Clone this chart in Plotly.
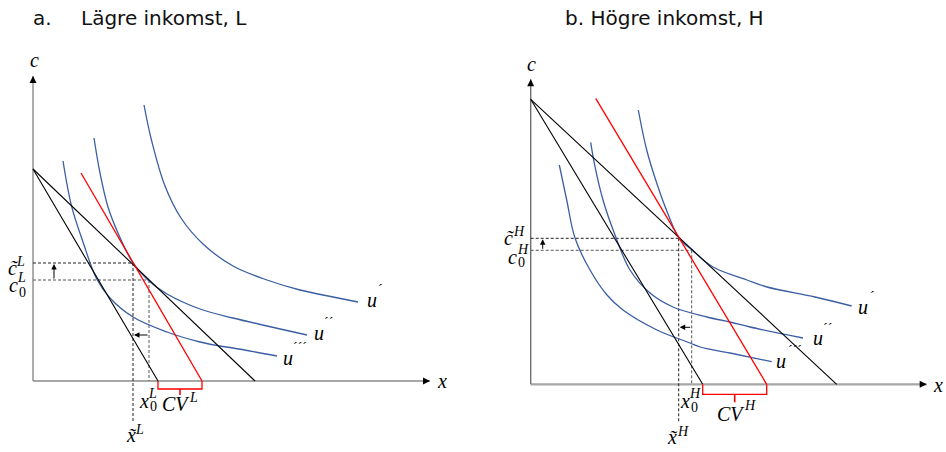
import plotly.graph_objects as go

# ---------------- Panel a: Lägre inkomst, L ----------------
a_axis_x_end, a_axis_c_end = 397, 305
a_budget_c = 212                      # common c-intercept of both black budget lines
a_budget_x_new, a_budget_x_old = 125, 222
a_comp_x = [48, 169]                  # red (compensated) budget line
a_comp_c = [208, 0]
a_c_tilde, a_c_0 = 118, 101
a_x_tilde, a_x_0 = 100, 116
a_u1_x = [111, 118.7, 132, 148, 170, 200, 234, 267, 300, 325]
a_u1_c = [276, 240, 195, 163, 137, 115, 101, 91, 84, 79]
a_u2_x = [61, 67, 75, 85, 100, 116, 134, 167, 200, 234, 274]
a_u2_c = [243, 208, 174, 148, 118, 100, 87, 72, 63, 55, 46]
a_u3_x = [30, 38.7, 50, 63.7, 77, 100, 134, 167, 187, 200, 244]
a_u3_c = [220, 174.3, 139, 102, 83, 64, 49, 39, 35, 33, 25]

# ---------------- Panel b: Högre inkomst, H ----------------
b_axis_x_end, b_axis_c_end = 396, 305
b_budget_c = 285
b_budget_x_new, b_budget_x_old = 172, 306
b_comp_x = [65, 236]
b_comp_c = [286, 0]
b_c_tilde, b_c_0 = 146, 134
b_x_tilde, b_x_0 = 148, 161
b_u1_x = [107.6, 116, 126, 137.3, 148.3, 161.3, 182.3, 216.3, 236.3, 284.3, 321]
b_u1_c = [274.3, 234.3, 201.3, 170.3, 146.3, 134.3, 117.3, 104.3, 97.3, 87.3, 78.3]
b_u2_x = [60, 64.3, 72.3, 84.3, 99.3, 119.3, 142.3, 176.3, 199.3, 219.3, 272.3]
b_u2_c = [242, 217.6, 184.3, 149.3, 114.3, 91.3, 77.3, 67.3, 62.3, 57.3, 46.3]
b_u3_x = [28.6, 36, 44.3, 59.3, 76.3, 92.3, 126.3, 159.3, 169.3, 199.3, 241]
b_u3_c = [219.3, 184.3, 146.3, 114.3, 89.3, 74.3, 54.3, 41.3, 37.3, 31.3, 22.6]

titles = ["a.", "Lägre inkomst, L", "b. Högre inkomst, H"]

BLUE = "#3a5ea3"
RED = "#ff0000"
MATH = "Liberation Serif"

fig = go.Figure()
ann = []


def panel(xr, yr, axis_x_end, axis_c_end, budget_c, bx_new, bx_old, comp_x, comp_c,
          c_t, c_0, x_t, x_0, curves, lab, xaxis_col, yaxis_col, xaxis_w,
          br_depth, br_tick, xt_bottom, arrow_c, arrow_x):
    def line(xs, cs, color, width=1.1, dash=None, shape="linear"):
        fig.add_trace(go.Scatter(x=xs, y=cs, mode="lines", xaxis=xr, yaxis=yr,
                                 line=dict(color=color, width=width, dash=dash, shape=shape),
                                 hoverinfo="skip"))
    # axes
    line([0, axis_x_end], [0, 0], xaxis_col, xaxis_w)
    line([0, 0], [0, axis_c_end], yaxis_col, 1.4)
    # dashed guides
    line([0, x_t], [c_t, c_t], "#222222", 1, "3px,2px")
    line([0, x_0], [c_0, c_0], "#555555", 1, "3px,2px")
    line([x_t, x_t], [c_t, xt_bottom], "#222222", 1, "3px,2px")
    line([x_0, x_0], [c_0, 0], "#555555", 1, "3px,2px")
    # indifference curves
    for cx, cc in curves:
        line(cx, cc, BLUE, 1.3, shape="spline")
    # budget lines
    line([0, bx_new], [budget_c, 0], "#000000", 1.1)
    line([0, bx_old], [budget_c, 0], "#000000", 1.1)
    line(comp_x, comp_c, RED, 1.3)
    # CV bracket
    mid = (bx_new + comp_x[1]) / 2
    line([bx_new, bx_new, comp_x[1], comp_x[1]], [0, -br_depth, -br_depth, 0], RED, 1.3)
    line([mid, mid], [-br_depth, -br_depth - br_tick], RED, 1.6)

    ref = dict(xref=xr, yref=yr, axref=xr, ayref=yr)
    # axis arrow heads
    ann.append(dict(**ref, x=0, y=axis_c_end, ax=0, ay=axis_c_end - 6, showarrow=True,
                    arrowhead=2, arrowsize=1, arrowwidth=1.4, arrowcolor="#000", text=""))
    ann.append(dict(**ref, x=axis_x_end, y=0, ax=axis_x_end - 6, ay=0, showarrow=True,
                    arrowhead=2, arrowsize=1, arrowwidth=1.4, arrowcolor="#000", text=""))
    # small shift arrows
    ann.append(dict(**ref, x=arrow_x, y=c_t - 1, ax=arrow_x, ay=c_0, showarrow=True,
                    arrowhead=2, arrowsize=1.1, arrowwidth=1, arrowcolor="#000", text=""))
    ann.append(dict(**ref, x=x_t + 1, y=arrow_c, ax=x_0, ay=arrow_c, showarrow=True,
                    arrowhead=2, arrowsize=1.1, arrowwidth=1, arrowcolor="#000", text=""))

    for x, y, t, s in lab:
        ann.append(dict(xref=xr, yref=yr, x=x, y=y, text=t, showarrow=False,
                        font=dict(family=MATH, size=s, color="#000"),
                        xanchor="center", yanchor="middle"))


a_labels = [
    (1, 321, "<i>c</i>", 20), (409, 0, "<i>x</i>", 20),
    (-20.5, 113, "<i>c\u0303</i>", 20), (-13, 120, "<i>L</i>", 14),
    (-19.5, 96, "<i>c</i>", 20), (-11.5, 103.5, "<i>L</i>", 14), (-11, 89, "0", 14),
    (98, -54, "<i>x\u0303</i>", 20), (106.5, -48, "<i>L</i>", 14),
    (110.5, -20, "<i>x</i>", 20), (119.5, -12, "<i>L</i>", 14), (120.5, -25, "0", 14),
    (142.5, -23, "<i>CV</i>", 20), (160, -16, "<i>L</i>", 14),
    (339, 81, "<i>u</i>", 20), (347, 92, "´", 14),
    (286, 48, "<i>u</i>", 20), (295, 59, "´´", 14),
    (255, 23, "<i>u</i>", 20), (267, 34, "´´´", 14),
]
b_labels = [
    (0.3, 320, "<i>c</i>", 20), (407.3, -1, "<i>x</i>", 20),
    (-21.7, 146.5, "<i>c\u0303</i>", 20), (-12.2, 153.3, "<i>H</i>", 14),
    (-18.2, 127.3, "<i>c</i>", 20), (-8.2, 135.3, "<i>H</i>", 14), (-9.2, 122, "0", 14),
    (141.3, -53, "<i>x\u0303</i>", 20), (152.3, -47, "<i>H</i>", 14),
    (154.3, -17, "<i>x</i>", 20), (164.3, -9, "<i>H</i>", 14), (163.3, -23, "0", 14),
    (200.3, -30, "<i>CV</i>", 20), (219.3, -21, "<i>H</i>", 14),
    (332.3, 77, "<i>u</i>", 20), (341.3, 88, "´", 14),
    (287.3, 46, "<i>u</i>", 20), (296.3, 56, "´´", 14),
    (250.3, 23, "<i>u</i>", 20), (264.3, 34, "´´´", 14),
]

panel("x", "y", a_axis_x_end, a_axis_c_end, a_budget_c, a_budget_x_new, a_budget_x_old,
      a_comp_x, a_comp_c, a_c_tilde, a_c_0, a_x_tilde, a_x_0,
      [(a_u1_x, a_u1_c), (a_u2_x, a_u2_c), (a_u3_x, a_u3_c)], a_labels,
      "#8a8a8a", "#8a8a8a", 1.4, 8, 6, -42, 46, 21)
panel("x2", "y2", b_axis_x_end, b_axis_c_end, b_budget_c, b_budget_x_new, b_budget_x_old,
      b_comp_x, b_comp_c, b_c_tilde, b_c_0, b_x_tilde, b_x_0,
      [(b_u1_x, b_u1_c), (b_u2_x, b_u2_c), (b_u3_x, b_u3_c)], b_labels,
      "#a6a6a6", "#707070", 2.2, 10, 8, -39, 57, 12)

W, H = 946, 452
title_font = dict(family="DejaVu Sans", size=20, color="#111")
for x_px, t in [(31, titles[0]), (79, titles[1]), (562.7, titles[2])]:
    ann.append(dict(xref="paper", yref="paper", x=x_px / W, y=1 - 18 / H,
                    text=t, showarrow=False, xanchor="left", yanchor="middle",
                    font=title_font))

fig.update_layout(
    width=W, height=H, margin=dict(l=0, r=0, t=0, b=0),
    paper_bgcolor="white", plot_bgcolor="white", showlegend=False,
    xaxis=dict(domain=[0, 0.5], range=[-33, 440], visible=False),
    yaxis=dict(domain=[0, 1], range=[-71, 381], visible=False),
    xaxis2=dict(domain=[0.5, 1], range=[-57.7, 415.3], visible=False, anchor="y2"),
    yaxis2=dict(domain=[0, 1], range=[-67.7, 384.3], visible=False, anchor="x2"),
    annotations=ann,
)
fig.write_html("out.html",
               config={"displayModeBar": False, "staticPlot": True},
               post_script="document.body.style.margin='0';"
                           "document.body.style.overflow='hidden';")
